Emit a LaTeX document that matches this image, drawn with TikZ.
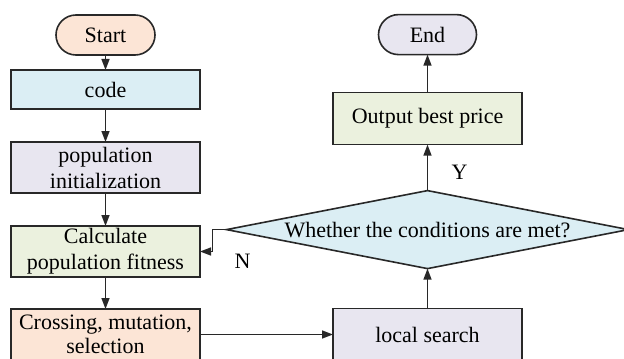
\documentclass[tikz,border=0pt]{standalone}
\usepackage{fontspec}
\setmainfont{Liberation Serif}
\usetikzlibrary{shapes.geometric, arrows.meta, positioning}

\definecolor{peach}{RGB}{252,229,214}
\definecolor{iceblue}{RGB}{219,238,244}
\definecolor{lilac}{RGB}{232,230,240}
\definecolor{sage}{RGB}{235,241,222}
\definecolor{edge}{RGB}{40,40,40}

\begin{document}
\begin{tikzpicture}[
    font=\fontsize{11}{13}\selectfont,
    term/.style={rectangle, rounded corners=10pt, draw=edge, line width=0.8pt, minimum width=49.5pt, minimum height=20pt, inner sep=0pt, outer sep=0pt},
    proc/.style={rectangle, draw=edge, line width=0.8pt, minimum width=94.5pt, minimum height=25.5pt, inner sep=1pt, outer sep=0pt, align=center},
    test/.style={diamond, draw=edge, line width=0.8pt, fill=iceblue, aspect=5.15, minimum width=201pt, minimum height=39pt, inner sep=0pt, outer sep=0pt},
    lbl/.style={inner sep=0pt},
    >={Triangle[length=5.5pt, width=4pt]}, line width=0.7pt
]
    \useasboundingbox (0,0) rectangle (312pt,-179pt);

    % left column
    \node[term, fill=peach] (start) at (52.75pt,-17.5pt) {Start};
    \node[proc, fill=iceblue, minimum height=19.5pt, below=7.5pt of start] (code) {code};
    \node[proc, fill=lilac, below=16.5pt of code] (init) {population\\initialization};
    \node[proc, fill=sage, below=16.5pt of init] (calc) {Calculate\\population fitness};
    \node[proc, fill=peach, inner ysep=2pt, font=\fontsize{11}{12}\selectfont, below=16pt of calc] (cross) {Crossing, mutation,\\selection};

    % right column
    \node[proc, fill=lilac, minimum height=25.9pt, right=66.5pt of cross] (local) {local search};
    \node[test, above=20pt of local] (cond) {Whether the conditions are met?};
    \node[proc, fill=sage, minimum height=26pt, above=23pt of cond] (output) {Output best price};
    \node[term, fill=lilac, minimum width=49pt, above=19pt of output] (end) {End};

    % labels
    \node[lbl] (ylab) at ([xshift=16pt, yshift=9pt]cond.north) {Y};
    \node[lbl] (nlab) at ([xshift=8pt, yshift=-16pt]cond.west) {N};

    % edges
    \draw[->, draw=edge] (start) -- (code);
    \draw[->, draw=edge] (code) -- (init);
    \draw[->, draw=edge] (init) -- (calc);
    \draw[->, draw=edge] (calc) -- (cross);
    \draw[->, draw=edge] (cross) -- (local);
    \draw[->, draw=edge] (local) -- (cond);
    \draw[->, draw=edge] (cond) -- (output);
    \draw[->, draw=edge] (output) -- (end);
    \draw[->, draw=edge] (cond.west) -- ++(-7pt,0) |- (calc.east);
\end{tikzpicture}
\end{document}
